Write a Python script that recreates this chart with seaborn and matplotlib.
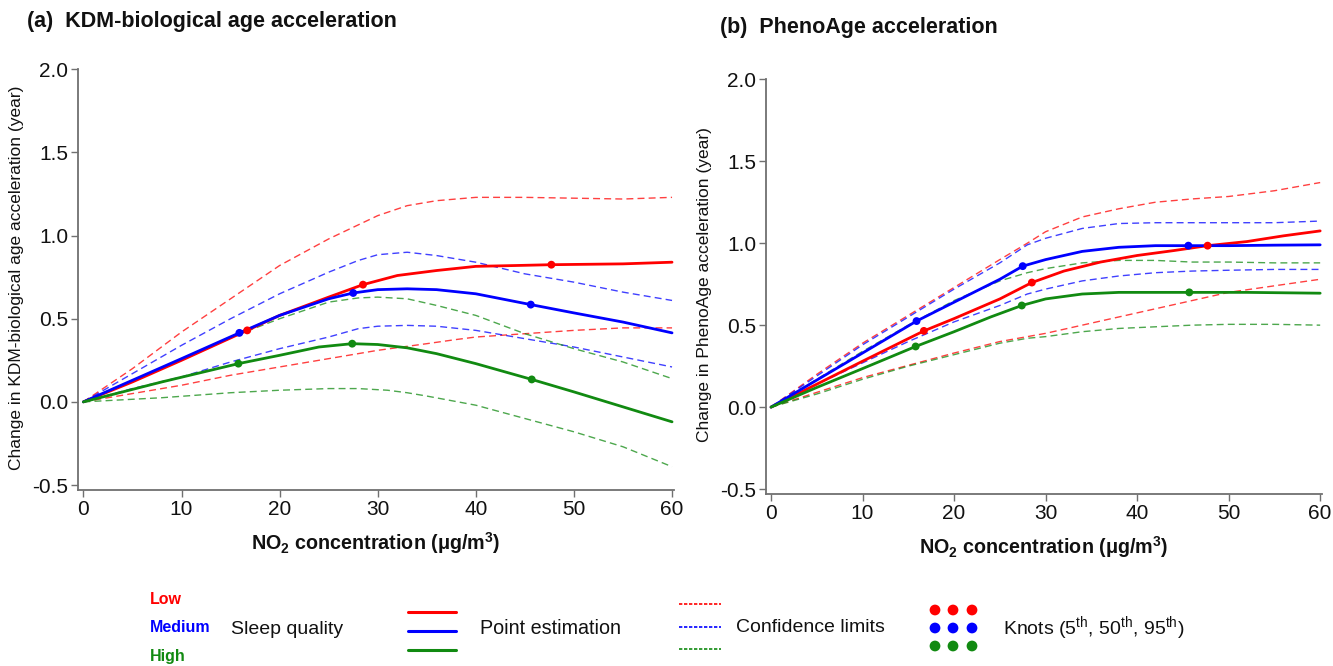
import numpy as np
import pandas as pd
import matplotlib
matplotlib.use("Agg")
import matplotlib.pyplot as plt
from matplotlib import font_manager
import seaborn as sns

# ---------------- data ----------------
groups = ["Low", "Medium", "High"]
colors = {"Low": "#FF0000", "Medium": "#0000FF", "High": "#118A11"}

# Panel (a): KDM-biological age acceleration
a_low_x = [0, 5, 10, 16.7, 20, 25, 28.5, 32, 36, 40, 44, 47.7, 55, 60]
a_low_y = [0, 0.12, 0.25, 0.43, 0.52, 0.63, 0.705, 0.76, 0.79, 0.815, 0.82, 0.825, 0.83, 0.84]
a_med_x = [0, 5, 10, 15.9, 20, 25, 27.5, 30, 33, 36, 40, 45.6, 50, 55, 60]
a_med_y = [0, 0.13, 0.26, 0.415, 0.52, 0.62, 0.655, 0.675, 0.68, 0.675, 0.65, 0.585, 0.535, 0.48, 0.415]
a_high_x = [0, 8, 15.8, 20, 24, 27.4, 30, 33, 36, 40, 45.7, 50, 55, 60]
a_high_y = [0, 0.12, 0.23, 0.28, 0.33, 0.35, 0.345, 0.325, 0.29, 0.23, 0.135, 0.06, -0.03, -0.12]

a_low_up = [0, 0.2, 0.42, 0.62, 0.82, 0.98, 1.12, 1.18, 1.21, 1.23, 1.23, 1.225, 1.22, 1.23]
a_low_lo = [0, 0.05, 0.1, 0.16, 0.21, 0.26, 0.31, 0.35, 0.375, 0.39, 0.41, 0.43, 0.445, 0.445]
a_med_up = [0, 0.17, 0.34, 0.5, 0.65, 0.78, 0.85, 0.885, 0.9, 0.88, 0.84, 0.77, 0.72, 0.66, 0.61]
a_med_lo = [0, 0.08, 0.15, 0.24, 0.32, 0.39, 0.44, 0.455, 0.46, 0.455, 0.43, 0.38, 0.33, 0.27, 0.21]
a_high_up = [0, 0.25, 0.41, 0.5, 0.6, 0.625, 0.63, 0.62, 0.58, 0.52, 0.41, 0.32, 0.24, 0.14]
a_high_lo = [0, 0.025, 0.055, 0.07, 0.08, 0.08, 0.07, 0.055, 0.035, -0.02, -0.1, -0.18, -0.27, -0.39]
a_ci_x = {"Low": [0, 5, 10, 15, 20, 25, 30, 33, 36, 40, 45, 50, 55, 60],
          "Medium": [0, 5, 10, 15, 20, 25, 28, 30, 33, 36, 40, 45, 50, 55, 60],
          "High": [0, 10, 16, 20, 25, 28, 30, 33, 36, 40, 45, 50, 55, 60]}
a_ci_lo_x = {"Low": [0, 5, 10, 15, 20, 25, 30, 35, 38, 40, 45, 50, 55, 60],
             "Medium": a_ci_x["Medium"],
             "High": [0, 8, 15, 20, 25, 28, 31, 33, 35, 40, 45, 50, 55, 60]}

# Panel (b): PhenoAge acceleration
b_low_x = [0, 5, 10, 16.7, 20, 25, 28.5, 32, 36, 40, 44, 47.7, 52, 56, 60]
b_low_y = [0, 0.14, 0.28, 0.465, 0.54, 0.66, 0.76, 0.83, 0.885, 0.925, 0.955, 0.985, 1.01, 1.045, 1.075]
b_med_x = [0, 5, 10, 15.9, 20, 25, 27.5, 30, 34, 38, 42, 45.6, 50, 55, 60]
b_med_y = [0, 0.165, 0.33, 0.525, 0.64, 0.78, 0.86, 0.9, 0.95, 0.975, 0.985, 0.985, 0.985, 0.988, 0.99]
b_high_x = [0, 5, 10, 15.8, 20, 24, 27.4, 30, 34, 38, 45.7, 52, 60]
b_high_y = [0, 0.12, 0.235, 0.37, 0.46, 0.55, 0.62, 0.66, 0.69, 0.70, 0.70, 0.70, 0.695]

b_ci_x = [0, 5, 10, 15, 20, 25, 28, 30, 34, 38, 42, 46, 50, 55, 60]
b_low_up = [0, 0.2, 0.39, 0.56, 0.73, 0.9, 1.0, 1.07, 1.16, 1.21, 1.25, 1.27, 1.285, 1.32, 1.37]
b_low_lo = [0, 0.09, 0.18, 0.255, 0.33, 0.4, 0.43, 0.45, 0.5, 0.55, 0.6, 0.65, 0.7, 0.74, 0.78]
b_med_up = [0, 0.19, 0.38, 0.55, 0.72, 0.88, 0.99, 1.03, 1.09, 1.12, 1.125, 1.125, 1.125, 1.125, 1.135]
b_med_lo = [0, 0.14, 0.27, 0.4, 0.52, 0.62, 0.69, 0.72, 0.77, 0.8, 0.82, 0.83, 0.835, 0.84, 0.84]
b_high_up = [0, 0.17, 0.34, 0.5, 0.65, 0.77, 0.82, 0.845, 0.88, 0.895, 0.895, 0.885, 0.885, 0.88, 0.88]
b_high_lo = [0, 0.08, 0.17, 0.25, 0.32, 0.39, 0.42, 0.43, 0.46, 0.48, 0.49, 0.5, 0.505, 0.505, 0.5]

# knots (5th, 50th, 95th percentiles)
knots_x = {"Low": [16.7, 28.5, 47.7], "Medium": [15.9, 27.5, 45.6], "High": [15.8, 27.4, 45.7]}

x_ticks = [0, 10, 20, 30, 40, 50, 60]
y_ticks = [-0.5, 0.0, 0.5, 1.0, 1.5, 2.0]
y_ticklabels = ["-0.5", "0.0", "0.5", "1.0", "1.5", "2.0"]

# ---------------- style ----------------
sns.set_theme(style="ticks")
names = {f.name for f in font_manager.fontManager.ttflist}
narrow = "Liberation Sans Narrow" if "Liberation Sans Narrow" in names else "Liberation Sans"
plt.rcParams["font.family"] = ["Liberation Sans", "DejaVu Sans"]

W, H = 1333, 666
fig = plt.figure(figsize=(W / 100, H / 100), dpi=100)


def px_axes(l, t, r, b):
    return fig.add_axes([l / W, 1 - b / H, (r - l) / W, (b - t) / H])


def build_panel(ax, solid, ci, ylabel):
    for g in groups:
        (ux, uy), (lx, ly) = ci[g]
        c = colors[g]
        sns.lineplot(x=ux, y=uy, ax=ax, color=c, lw=1.0, alpha=0.75,
                     linestyle=(0, (5, 3)), estimator=None, sort=False)
        sns.lineplot(x=lx, y=ly, ax=ax, color=c, lw=1.0, alpha=0.75,
                     linestyle=(0, (5, 3)), estimator=None, sort=False)
    for g in groups:
        sx, sy = solid[g]
        c = colors[g]
        sns.lineplot(x=sx, y=sy, ax=ax, color=c, lw=2.0, estimator=None, sort=False)
        kx = knots_x[g]
        ky = np.interp(kx, sx, sy)
        sns.scatterplot(x=kx, y=ky, ax=ax, color=c, s=32, edgecolor="none", zorder=5)
    ax.set_xlim(-0.55, 60.2)
    ax.set_ylim(-0.53, 2.02)
    ax.set_xticks(x_ticks)
    ax.set_xticklabels([str(v) for v in x_ticks], fontfamily=narrow, fontsize=15)
    ax.set_yticks(y_ticks)
    ax.set_yticklabels(y_ticklabels, fontfamily=narrow, fontsize=15)
    for s in ["top", "right"]:
        ax.spines[s].set_visible(False)
    for s in ["left", "bottom"]:
        ax.spines[s].set_color("#707070")
        ax.spines[s].set_linewidth(1.3)
    ax.spines["left"].set_bounds(-0.53, 2.0)
    ax.tick_params(axis="both", colors="#707070", length=5, width=1.0, labelcolor="#111111", pad=2)
    ax.set_xlabel("NO$_\\mathregular{2}$ concentration (μg/m$^\\mathregular{3}$)", fontfamily=narrow,
                  fontweight="bold", fontsize=14.2, labelpad=8, color="#111111")
    ax.set_ylabel(ylabel, fontsize=12.5, color="#111111", labelpad=6)
    ax.grid(False)


axA = px_axes(78, 66, 674, 490)
build_panel(
    axA,
    {"Low": (a_low_x, a_low_y), "Medium": (a_med_x, a_med_y), "High": (a_high_x, a_high_y)},
    {"Low": ((a_ci_x["Low"], a_low_up), (a_ci_lo_x["Low"], a_low_lo)),
     "Medium": ((a_ci_x["Medium"], a_med_up), (a_ci_lo_x["Medium"], a_med_lo)),
     "High": ((a_ci_x["High"], a_high_up), (a_ci_lo_x["High"], a_high_lo))},
    "Change in KDM-biological age acceleration (year)",
)

axB = px_axes(766, 76, 1322, 494)
build_panel(
    axB,
    {"Low": (b_low_x, b_low_y), "Medium": (b_med_x, b_med_y), "High": (b_high_x, b_high_y)},
    {"Low": ((b_ci_x, b_low_up), (b_ci_x, b_low_lo)),
     "Medium": ((b_ci_x, b_med_up), (b_ci_x, b_med_lo)),
     "High": ((b_ci_x, b_high_up), (b_ci_x, b_high_lo))},
    "Change in PhenoAge acceleration (year)",
)

fig.text(27 / W, 1 - 22 / H, "(a)  KDM-biological age acceleration", fontsize=15.5,
         fontweight="bold", va="center", ha="left", color="#111111")
fig.text(720 / W, 1 - 27 / H, "(b)  PhenoAge acceleration", fontsize=15.5,
         fontweight="bold", va="center", ha="left", color="#111111")

# ---------------- custom legend ----------------
lg = fig.add_axes([0, 0, 1, 1], zorder=-1)
lg.set_xlim(0, W)
lg.set_ylim(H, 0)
lg.axis("off")

label_y = [599, 628, 657]
for g, yy in zip(groups, label_y):
    lg.text(150, yy, g, color=colors[g], fontweight="bold", fontsize=11.5, va="center", ha="left")
lg.text(231, 630, "Sleep quality", fontsize=14, va="center", ha="left", fontfamily=narrow, color="#111111")

for g, yy in zip(groups, [612, 631, 650]):
    lg.plot([408, 456], [yy, yy], color=colors[g], lw=2.2)
lg.text(480, 629, "Point estimation", fontsize=14.2, va="center", ha="left", fontfamily=narrow, color="#111111")

for g, yy in zip(groups, [604, 627, 649]):
    lg.plot([679, 721], [yy, yy], color=colors[g], lw=1.2, linestyle=(0, (2, 1)))
lg.text(736, 628, "Confidence limits", fontsize=14, va="center", ha="left", fontfamily=narrow, color="#111111")

for g, yy in zip(groups, [610, 628, 646]):
    lg.scatter([935, 953, 972], [yy, yy, yy], color=colors[g], s=60, edgecolor="none")
lg.text(1003, 629, "Knots (5$^{\\mathregular{th}}$, 50$^{\\mathregular{th}}$, 95$^{\\mathregular{th}}$)",
        fontsize=14, va="center", ha="left", fontfamily=narrow, color="#111111")

fig.savefig("out.png", dpi=100, facecolor="white")
